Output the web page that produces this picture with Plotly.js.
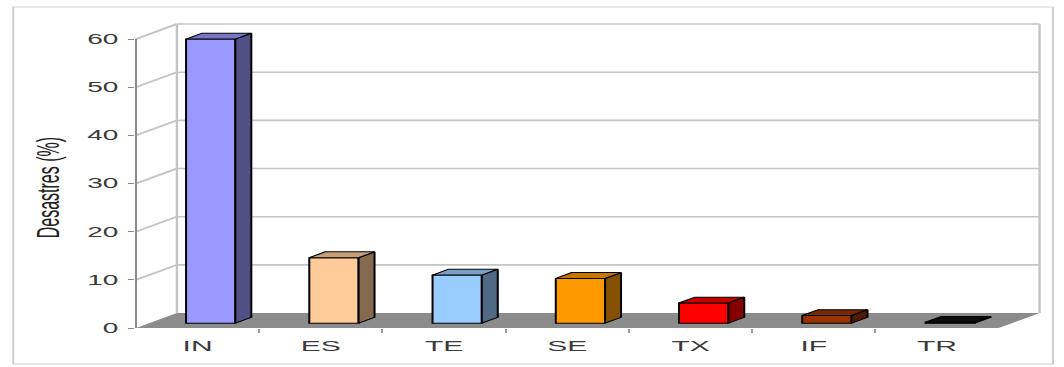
<!DOCTYPE html>
<html>
<head>
<meta charset="utf-8">
<script src="https://cdn.plot.ly/plotly-3.0.1.min.js"></script>
<style>
  html, body { margin: 0; padding: 0; background: #ffffff; overflow: hidden; }
  /* chart is laid out at half width and stretched horizontally */
  #wrap { width: 532px; height: 367px; transform: scaleX(2); transform-origin: 0 0; }
</style>
</head>
<body>
<div id="wrap"><div id="chart"></div></div>
<script>
// ---- data ----
const categories = ['IN', 'ES', 'TE', 'SE', 'TX', 'IF', 'TR'];
const values = [59, 13.6, 10, 9.3, 4.2, 1.6, 0.2];
const frontColors = ['#9999FF', '#FFCC99', '#99CCFF', '#FF9900', '#FF0000', '#993300', '#111111'];
const yTicks = [0, 10, 20, 30, 40, 50, 60];
const yTitle = 'Desastres (%)';

// ---- pseudo-3D geometry (axis units) ----
const DX = 0.332;      // depth offset along x (category units)
const DY = 3.11;       // depth offset along y (value units)
const F0 = 0.32;       // depth fraction of bar front
const F1 = 0.71;       // depth fraction of bar back
const BAR_W = 0.40;
const XMIN = -0.5;
const XMAX = 6.868;
const YMAX = 63.53;
const YTOP = yTicks[yTicks.length - 1];
const N = categories.length;

function shade(hex, k) {
  const n = parseInt(hex.slice(1), 16);
  const r = Math.round(((n >> 16) & 255) * k);
  const g = Math.round(((n >> 8) & 255) * k);
  const b = Math.round((n & 255) * k);
  return 'rgb(' + r + ',' + g + ',' + b + ')';
}
function pathOf(pts) {
  return 'M' + pts.map(p => p[0] + ',' + p[1]).join('L') + 'Z';
}

const gridColor = '#c4c4c4';
const shapes = [];

// floor
shapes.push({
  type: 'path', xref: 'x', yref: 'y', layer: 'below',
  path: pathOf([[XMIN, 0], [XMIN + DX, DY], [XMIN + N + DX, DY], [XMIN + N, 0]]),
  fillcolor: '#8c8c8c', line: { width: 0 }
});
// wall grid lines (side wall slanted, back wall horizontal)
yTicks.filter(v => v > 0).forEach(v => {
  shapes.push({ type: 'line', xref: 'x', yref: 'y', layer: 'below',
    x0: XMIN, y0: v, x1: XMIN + DX, y1: v + DY, line: { color: gridColor, width: 1.6 } });
  shapes.push({ type: 'line', xref: 'x', yref: 'y', layer: 'below',
    x0: XMIN + DX, y0: v + DY, x1: XMIN + N + DX, y1: v + DY, line: { color: gridColor, width: 1.6 } });
});
// wall edges
shapes.push({ type: 'line', xref: 'x', yref: 'y', layer: 'below',
  x0: XMIN + DX, y0: DY, x1: XMIN + DX, y1: YTOP + DY, line: { color: gridColor, width: 1.2 } });
shapes.push({ type: 'line', xref: 'x', yref: 'y', layer: 'below',
  x0: XMIN + N + DX, y0: DY, x1: XMIN + N + DX, y1: YTOP + DY, line: { color: gridColor, width: 1.2 } });
// front value axis line
shapes.push({ type: 'line', xref: 'paper', yref: 'paper', layer: 'above',
  x0: 0, y0: 0, x1: 0, y1: YTOP / YMAX, line: { color: '#8a8a8a', width: 1 } });
// outer frame
shapes.push({ type: 'rect', xref: 'paper', yref: 'paper', layer: 'below',
  x0: -0.1352, y0: -0.1176, x1: 1.0099, y1: 1.049, line: { color: '#cfcfcf', width: 1 } });

// bar front faces
const xs = categories.map((c, i) => i + F0 * DX);
const traces = [{
  type: 'bar',
  x: xs,
  y: values,
  base: values.map(() => F0 * DY),
  width: BAR_W,
  marker: { color: frontColors, line: { color: '#000000', width: 1 } },
  hoverinfo: 'skip',
  showlegend: false
}];

// bar top and side faces
const d = F1 - F0;
values.forEach((v, i) => {
  const xl = xs[i] - BAR_W / 2, xr = xs[i] + BAR_W / 2;
  const b = F0 * DY, t = b + v;
  const top = [[xl, t], [xr, t], [xr + d * DX, t + d * DY], [xl + d * DX, t + d * DY], [xl, t]];
  const side = [[xr, b], [xr, t], [xr + d * DX, t + d * DY], [xr + d * DX, b + d * DY], [xr, b]];
  [[side, 0.52], [top, 0.78]].forEach(([pts, k]) => {
    traces.push({
      type: 'scatter', mode: 'lines', fill: 'toself',
      x: pts.map(p => p[0]), y: pts.map(p => p[1]),
      fillcolor: shade(frontColors[i], k),
      line: { color: '#000000', width: 1 },
      hoverinfo: 'skip', showlegend: false
    });
  });
});

const font = 'Arial, "Liberation Sans", sans-serif';
const layout = {
  width: 532, height: 367,
  margin: { l: 67.5, r: 9.5, t: 22, b: 39 },
  paper_bgcolor: '#ffffff', plot_bgcolor: '#ffffff',
  showlegend: false,
  font: { family: font, color: '#333333' },
  xaxis: {
    type: 'linear', range: [XMIN, XMAX], fixedrange: true,
    tickmode: 'array', tickvals: categories.map((c, i) => i), ticktext: categories,
    ticks: '', showgrid: false, zeroline: false, showline: false,
    tickfont: { size: 15, color: '#3a3a3a', family: font },
    ticklabelstandoff: 7,
    minor: { tickmode: 'array', tickvals: categories.slice(1).map((c, i) => i + 0.5),
             ticks: 'outside', ticklen: 4, tickcolor: '#9a9a9a', tickwidth: 1, showgrid: false }
  },
  yaxis: {
    range: [0, YMAX], fixedrange: true,
    tickmode: 'array', tickvals: yTicks, ticktext: yTicks.map(String),
    ticks: 'outside', ticklen: 3, tickcolor: '#8a8a8a', tickwidth: 1,
    showgrid: false, zeroline: false, showline: false,
    ticklabelstandoff: 2,
    tickfont: { size: 14, color: '#3a3a3a', family: font }
  },
  annotations: [{
    text: yTitle, xref: 'paper', yref: 'paper', x: -0.0985, y: 0.4575,
    xanchor: 'center', yanchor: 'middle', textangle: -90, showarrow: false,
    font: { size: 16, color: '#222222', family: font }
  }],
  shapes: shapes
};

Plotly.newPlot('chart', traces, layout, { staticPlot: true, displayModeBar: false });
</script>
</body>
</html>
